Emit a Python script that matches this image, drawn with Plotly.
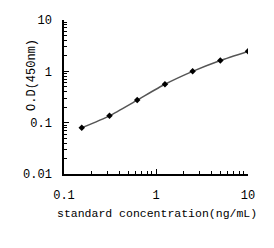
import plotly.graph_objects as go

conc = [0.156, 0.3125, 0.625, 1.25, 2.5, 5, 10]
od = [0.08, 0.136, 0.275, 0.56, 1.0, 1.63, 2.45]

x_ticks = [0.1, 1, 10]
x_ticktext = ["0.1", "1", "10"]
y_ticks = [0.01, 0.1, 1, 10]
y_ticktext = ["0.01", "0.1", "1", "10"]

def minors(lo, hi):
    out = []
    d = lo
    while d < hi:
        for k in range(2, 10):
            out.append(round(d * k, 6))
        d *= 10
    return out

fig = go.Figure()
fig.add_trace(go.Scatter(
    x=conc, y=od, mode="lines+markers",
    line=dict(color="#555555", width=1.5, shape="spline", smoothing=0.6),
    marker=dict(symbol="diamond", size=5, color="black"),
    showlegend=False,
))

font = dict(family="Liberation Mono, monospace", size=12, color="black")

fig.update_layout(
    width=274, height=248,
    margin=dict(l=64, r=26, t=20, b=74),
    paper_bgcolor="white", plot_bgcolor="white",
    font=font,
    xaxis=dict(
        type="log", range=[-1, 1],
        tickmode="array", tickvals=x_ticks, ticktext=x_ticktext,
        ticks="inside", ticklen=5, tickcolor="black",
        minor=dict(ticks="inside", ticklen=3, tickcolor="black", tickvals=minors(0.1, 10)),
        showline=True, linecolor="black", linewidth=1.5,
        showgrid=False, zeroline=False,
        ticklabelstandoff=9,
        tickfont=dict(size=12),
    ),
    yaxis=dict(
        type="log", range=[-2, 1],
        tickmode="array", tickvals=y_ticks, ticktext=y_ticktext,
        ticks="inside", ticklen=5, tickcolor="black",
        minor=dict(ticks="inside", ticklen=3, tickcolor="black", tickvals=minors(0.01, 10)),
        showline=True, linecolor="black", linewidth=1.5,
        showgrid=False, zeroline=False,
        ticklabelstandoff=8,
        tickfont=dict(size=12),
    ),
    annotations=[
        dict(text="standard concentration(ng/mL)", xref="paper", yref="paper",
             x=0.505, y=-0.255, xanchor="center", yanchor="middle",
             showarrow=False, font=dict(size=11.5)),
        dict(text="O.D(450nm)", xref="paper", yref="paper",
             x=-0.174, y=0.643, xanchor="center", yanchor="middle",
             textangle=-90, showarrow=False, font=dict(size=12)),
    ],
)

fig.write_html("out.html")
